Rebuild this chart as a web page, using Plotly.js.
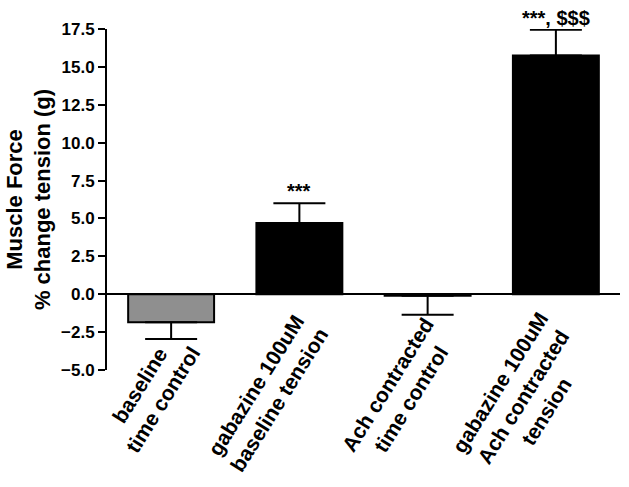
<!DOCTYPE html>
<html>
<head>
<meta charset="utf-8">
<script src="https://cdn.plot.ly/plotly-3.0.1.min.js"></script>
<style>html,body{margin:0;padding:0;background:#fff;}#chart{width:629px;height:487px;}</style>
</head>
<body>
<div id="chart"></div>
<script>
const categories = ['baseline<br>time control', 'gabazine 100uM<br>baseline tension', 'Ach contracted<br>time control', 'gabazine 100uM<br>Ach contracted<br>tension'];
const values = [-1.85, 4.7, -0.1, 15.75];
const errPlus = [0, 1.3, 0, 1.7];
const errMinus = [1.1, 0, 1.25, 0];
const barColors = ['#8f8f8f', '#000000', '#000000', '#000000'];
const sigLabels = ['', '***', '', '***, $$$'];
const yTickVals = [-5, -2.5, 0, 2.5, 5, 7.5, 10, 12.5, 15, 17.5];

const FONT = 'Liberation Sans, Arial, Helvetica, sans-serif';

const trace = {
  type: 'bar',
  x: categories,
  y: values,
  marker: { color: barColors, line: { color: '#000', width: 2 } },
  error_y: {
    type: 'data', symmetric: false, array: errPlus, arrayminus: errMinus,
    color: '#000', thickness: 2, width: 26
  },
  hoverinfo: 'none'
};

const annotations = [];
categories.forEach((c, i) => {
  const extraLines = c.split('<br>').length - 2;
  annotations.push({
    xref: 'x', yref: 'paper', x: c, y: -0.065,
    text: c, textangle: -58, showarrow: false, align: 'center',
    xanchor: 'right', yanchor: 'middle',
    xshift: 36 + 10 * extraLines, yshift: -5 * extraLines,
    font: { family: FONT, size: 21, color: '#000', weight: 'bold' }
  });
  if (sigLabels[i]) {
    annotations.push({
      xref: 'x', yref: 'y', x: c, y: values[i] + errPlus[i],
      text: sigLabels[i], showarrow: false,
      xanchor: 'center', yanchor: 'bottom', yshift: -1,
      font: { family: FONT, size: 20, color: '#000', weight: 'bold' }
    });
  }
});

const layout = {
  width: 629, height: 487,
  margin: { l: 107, r: 9, t: 29, b: 117 },
  paper_bgcolor: '#fff', plot_bgcolor: '#fff',
  showlegend: false,
  bargap: 0.33,
  font: { family: FONT, color: '#000', weight: 'bold' },
  xaxis: {
    type: 'category', range: [-0.5, 3.5],
    showticklabels: false, ticks: '', showgrid: false, zeroline: false, showline: false,
    fixedrange: true
  },
  yaxis: {
    range: [-5, 17.5], tickvals: yTickVals, tickformat: '.1f',
    ticks: 'outside', ticklen: 7, tickwidth: 2, tickcolor: '#000',
    showline: true, linecolor: '#000', linewidth: 2,
    showgrid: false, zeroline: true, zerolinecolor: '#000', zerolinewidth: 2,
    tickfont: { family: FONT, size: 17, color: '#000', weight: 'bold' },
    title: { text: 'Muscle Force<br>% change tension (g)', standoff: 4,
             font: { family: FONT, size: 22, color: '#000', weight: 'bold' } },
    fixedrange: true
  },
  annotations: annotations
};

Plotly.newPlot('chart', [trace], layout, { displayModeBar: false, staticPlot: true });
</script>
</body>
</html>
